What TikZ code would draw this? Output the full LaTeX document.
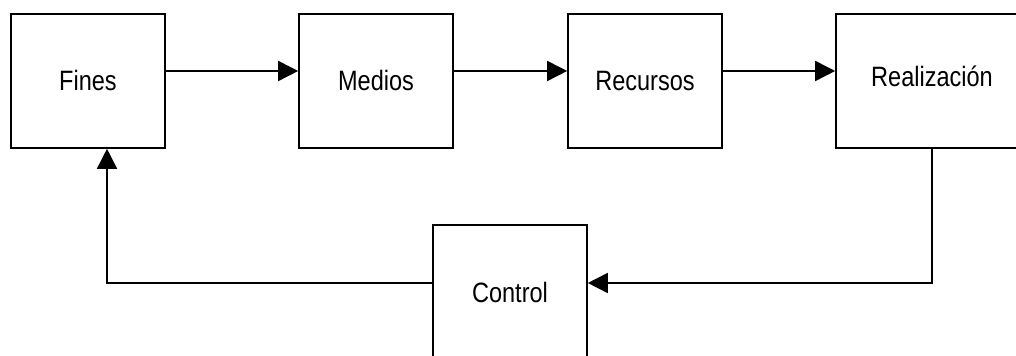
\documentclass[tikz,border=0pt]{standalone}
\usepackage{fontspec}
\setmainfont{Liberation Sans}[FakeStretch=0.84]
\usetikzlibrary{arrows.meta,positioning}

\begin{document}
\begin{tikzpicture}[x=0.5pt,y=-0.5pt,
    block/.style={draw,line width=0.8pt,minimum width=77pt,minimum height=67pt,inner sep=0pt,font=\fontsize{14}{16}\selectfont},
    flow/.style={-{Triangle[length=10pt,width=10pt]},line width=0.8pt}]
    \useasboundingbox (0,0) rectangle (1016,356);
    % Blocks
    \node[block] (fines) at (88,81) {Fines};
    \node[block] (medios) at (376,81) {Medios};
    \node[block] (recursos) at (645,81) {Recursos};
    \node[block,minimum width=96pt] (realiz) at (932,81) {\raisebox{4.5pt}{Realización}};
    \node[block] (control) at (510,292) {Control};
    % forward chain
    \draw[flow] ([yshift=5pt]fines.east) -- ([yshift=5pt]medios.west);
    \draw[flow] ([yshift=5pt]medios.east) -- ([yshift=5pt]recursos.west);
    \draw[flow] ([yshift=5pt]recursos.east) -- ([yshift=5pt]realiz.west);
    % feedback
    \draw[flow] (realiz.south) |- ([yshift=4.5pt]control.east);
    \draw[flow] ([yshift=4.5pt]control.west) -| ([xshift=9.5pt]fines.south);
\end{tikzpicture}
\end{document}
